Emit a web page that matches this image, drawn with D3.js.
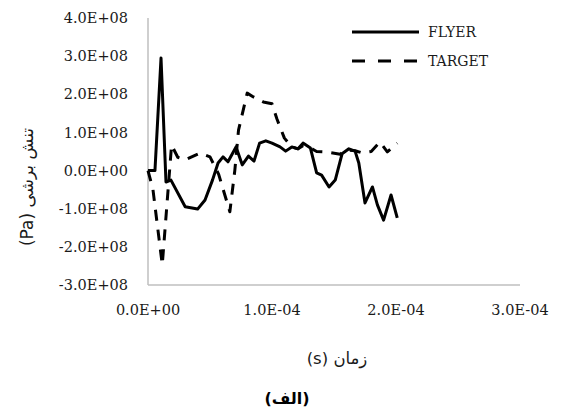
<!DOCTYPE html>
<html>
<head>
<meta charset="utf-8">
<script src="https://cdn.jsdelivr.net/npm/d3@7"></script>
<style>
  html, body { margin: 0; padding: 0; background: #fff; }
  svg { display: block; }
</style>
</head>
<body>
<svg id="chart" width="563" height="410"></svg>
<script>
// Time in units of 1e-4 s, shear stress in units of 1e8 Pa
const flyerTime = [0, 0.056, 0.105, 0.145, 0.185, 0.30, 0.40, 0.46, 0.52, 0.565, 0.605, 0.645,
  0.71, 0.76, 0.81, 0.855, 0.90, 0.95, 1.0, 1.065, 1.11, 1.16, 1.21, 1.25, 1.31, 1.36, 1.40,
  1.46, 1.51, 1.565, 1.62, 1.67, 1.70, 1.75, 1.81, 1.85, 1.90, 1.96, 2.01];
const flyerStress = [0, 0, 2.95, -0.3, -0.25, -0.95, -1.01, -0.77, -0.25, 0.2, 0.36, 0.23,
  0.62, 0.15, 0.38, 0.25, 0.72, 0.78, 0.72, 0.62, 0.51, 0.62, 0.57, 0.72, 0.59, -0.06, -0.12,
  -0.43, -0.25, 0.44, 0.57, 0.51, 0.2, -0.85, -0.43, -0.9, -1.3, -0.64, -1.24];

const targetTime = [0, 0.04, 0.115, 0.19, 0.24, 0.30, 0.42, 0.50, 0.57, 0.66, 0.70, 0.73,
  0.80, 0.85, 0.93, 1.0, 1.04, 1.10, 1.16, 1.21, 1.25, 1.31, 1.36, 1.44, 1.55, 1.60, 1.67,
  1.73, 1.80, 1.87, 1.93, 2.01];
const targetStress = [0, -0.5, -2.47, 0.67, 0.35, 0.28, 0.46, 0.36, -0.1, -1.08, 0.0, 1.06,
  2.03, 1.93, 1.8, 1.75, 1.35, 0.85, 0.62, 0.57, 0.65, 0.59, 0.5, 0.49, 0.43, 0.54, 0.52,
  0.46, 0.5, 0.75, 0.49, 0.72];

const xTicks = [0, 1, 2, 3];
const xTickLabels = ["0.0E+00", "1.0E-04", "2.0E-04", "3.0E-04"];
const yTicks = [4, 3, 2, 1, 0, -1, -2, -3];
const yTickLabels = ["4.0E+08", "3.0E+08", "2.0E+08", "1.0E+08", "0.0E+00", "-1.0E+08", "-2.0E+08", "-3.0E+08"];

const seriesNames = ["FLYER", "TARGET"];
const xTitle = "زمان  (s)";
const yTitle = "تنش برشی (Pa)";
const caption = "(الف)";

const svg = d3.select("#chart");
const plotLeft = 148, plotRight = 520, plotTop = 18, plotBottom = 285;

const x = d3.scaleLinear().domain([0, 3]).range([plotLeft, plotRight]);
const y = d3.scaleLinear().domain([-3, 4]).range([plotBottom, plotTop]);

const serif = "'DejaVu Serif', 'Liberation Serif', serif";
const arabic = "'DejaVu Sans', 'Noto Sans', sans-serif";
const axisColor = "#bfbfbf";
const textColor = "#1a1a1a";

// Axis lines
svg.append("line").attr("x1", plotLeft).attr("x2", plotLeft).attr("y1", plotTop).attr("y2", plotBottom)
  .attr("stroke", axisColor).attr("stroke-width", 1.5);
svg.append("line").attr("x1", plotLeft).attr("x2", plotRight).attr("y1", plotBottom).attr("y2", plotBottom)
  .attr("stroke", axisColor).attr("stroke-width", 1.5);

// Tick labels
svg.append("g").selectAll("text").data(yTicks).join("text")
  .attr("x", 128).attr("y", d => y(d)).attr("dy", "0.35em")
  .attr("text-anchor", "end")
  .attr("font-family", serif).attr("font-size", 14.5).attr("fill", textColor)
  .text((d, i) => yTickLabels[i]);

svg.append("g").selectAll("text").data(xTicks).join("text")
  .attr("x", d => x(d)).attr("y", 310).attr("dy", "0.35em")
  .attr("text-anchor", "middle")
  .attr("font-family", serif).attr("font-size", 14.5).attr("fill", textColor)
  .text((d, i) => xTickLabels[i]);

// Series
const line = d3.line().x(d => x(d[0])).y(d => y(d[1]));
const flyer = flyerTime.map((t, i) => [t, flyerStress[i]]);
const target = targetTime.map((t, i) => [t, targetStress[i]]);

svg.append("path").datum(target).attr("d", line)
  .attr("fill", "none").attr("stroke", "#000").attr("stroke-width", 3)
  .attr("stroke-dasharray", "11,9").attr("stroke-linejoin", "round");

svg.append("path").datum(flyer).attr("d", line)
  .attr("fill", "none").attr("stroke", "#000").attr("stroke-width", 3)
  .attr("stroke-linejoin", "round");

// Legend
const legend = svg.append("g");
const legendRows = [
  { name: seriesNames[0], yPos: 32, dash: null },
  { name: seriesNames[1], yPos: 61, dash: "13,13" }
];
legendRows.forEach(r => {
  legend.append("line").attr("x1", 352).attr("x2", 419).attr("y1", r.yPos).attr("y2", r.yPos)
    .attr("stroke", "#000").attr("stroke-width", 3)
    .attr("stroke-dasharray", r.dash);
  legend.append("text").attr("x", 428).attr("y", r.yPos).attr("dy", "0.35em")
    .attr("font-family", serif).attr("font-size", 14).attr("fill", textColor)
    .text(r.name);
});

// Axis titles and caption (right-to-left text)
svg.append("text").attr("x", 337).attr("y", 358).attr("dy", "0.35em")
  .attr("direction", "rtl").attr("text-anchor", "middle").attr("font-family", arabic)
  .attr("font-size", 16.5).attr("fill", textColor).text(xTitle);

svg.append("text").attr("transform", "translate(27,187) rotate(-90)")
  .attr("dy", "0.35em").attr("direction", "rtl").attr("text-anchor", "middle")
  .attr("font-family", arabic)
  .attr("font-size", 17).attr("fill", textColor).text(yTitle);

svg.append("text").attr("x", 287).attr("y", 398).attr("dy", "0.35em")
  .attr("direction", "rtl").attr("text-anchor", "middle").attr("font-family", arabic)
  .attr("font-weight", "bold").attr("font-size", 16).attr("fill", "#000").text(caption);
</script>
</body>
</html>
